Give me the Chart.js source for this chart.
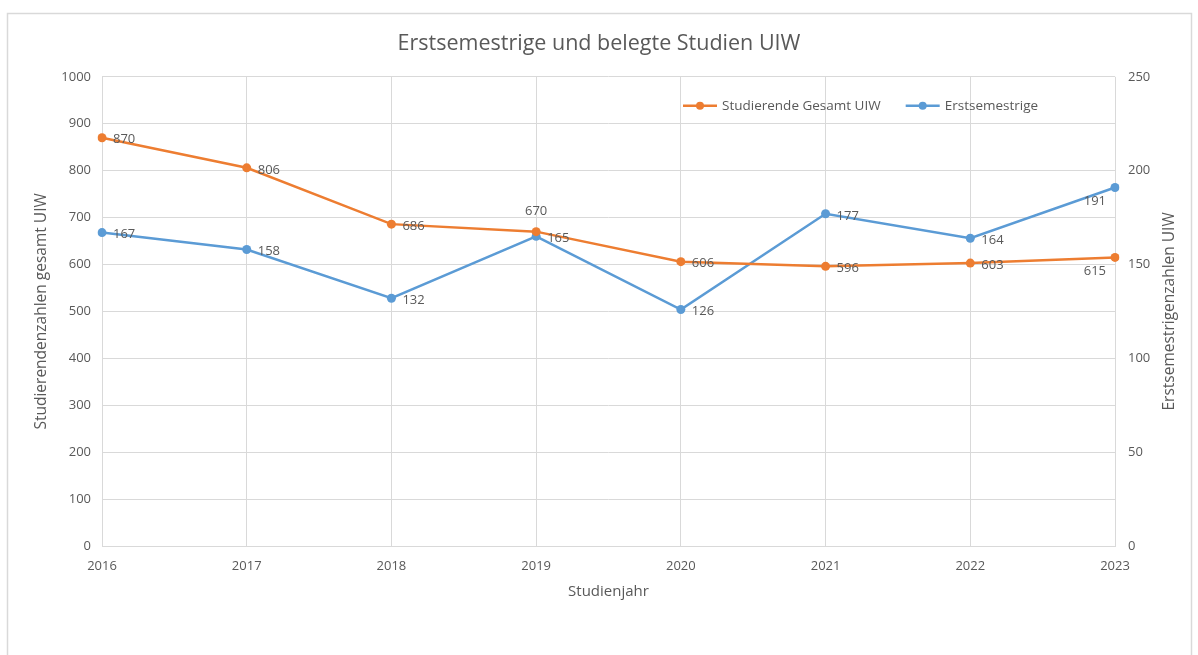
<!DOCTYPE html>
<html>
<head>
<meta charset="utf-8">
<script src="https://cdn.jsdelivr.net/npm/chart.js@4/dist/chart.umd.min.js"></script>
<style>
html,body{margin:0;padding:0;background:#fff;}
#wrap{width:1198px;height:655px;position:relative;}
</style>
</head>
<body>
<div id="wrap"><canvas id="c" width="1198" height="655"></canvas></div>
<script>
// ---- data ----
const years = ['2016', '2017', '2018', '2019', '2020', '2021', '2022', '2023'];
const studierendeGesamt = [870, 806, 686, 670, 606, 596, 603, 615];
const erstsemestrige = [167, 158, 132, 165, 126, 177, 164, 191];
const leftAxisMax = 1000, leftAxisStep = 100;
const rightAxisMax = 250, rightAxisStep = 50;

const chartTitle = 'Erstsemestrige und belegte Studien UIW';
const xTitle = 'Studienjahr';
const leftTitle = 'Studierendenzahlen gesamt UIW';
const rightTitle = 'Erstsemestrigenzahlen UIW';
const seriesNames = ['Studierende Gesamt UIW', 'Erstsemestrige'];

// label placement (style)
const labelPlacement = [
  ['right','right','right','above','right','right','right','belowLeft'],
  ['right','right','right','right','right','right','right','belowLeft']
];

const FONT = "'Open Sans', 'Liberation Sans', sans-serif";
const TEXT = '#595959';
const GRID = '#d9d9d9';
const ORANGE = '#ED7D31';
const BLUE = '#5B9BD5';

const framePlugin = {
  id: 'frame',
  beforeDraw(chart) {
    const c = chart.ctx;
    c.save();
    c.fillStyle = '#fff';
    c.fillRect(0, 0, chart.width, chart.height);
    c.strokeStyle = GRID;
    c.lineWidth = 1.5;
    c.strokeRect(7.5, 13.5, 1184, 700);
    c.restore();
  }
};

const dataLabelPlugin = {
  id: 'dataLabels',
  afterDatasetsDraw(chart) {
    const c = chart.ctx;
    c.save();
    c.font = '13px ' + FONT;
    c.fillStyle = TEXT;
    chart.data.datasets.forEach((ds, di) => {
      const meta = chart.getDatasetMeta(di);
      meta.data.forEach((pt, i) => {
        const pos = labelPlacement[di][i];
        const txt = String(ds.data[i]);
        if (pos === 'above') {
          c.textAlign = 'center'; c.textBaseline = 'middle';
          c.fillText(txt, pt.x, pt.y - 20);
        } else if (pos === 'belowLeft') {
          c.textAlign = 'right'; c.textBaseline = 'middle';
          c.fillText(txt, pt.x - 9, pt.y + 14);
        } else {
          c.textAlign = 'left'; c.textBaseline = 'middle';
          c.fillText(txt, pt.x + 11, pt.y + 2);
        }
      });
    });
    c.restore();
  }
};

const legendPlugin = {
  id: 'customLegend',
  afterDraw(chart) {
    const c = chart.ctx;
    const area = chart.chartArea;
    let x = area.right - 432;
    const y = area.top + 29;
    c.save();
    c.font = '13.5px ' + FONT;
    c.textAlign = 'left';
    c.textBaseline = 'middle';
    chart.data.datasets.forEach((ds) => {
      c.strokeStyle = ds.borderColor;
      c.lineWidth = 2.5;
      c.beginPath(); c.moveTo(x, y); c.lineTo(x + 34, y); c.stroke();
      c.fillStyle = ds.backgroundColor;
      c.beginPath(); c.arc(x + 17, y, 4, 0, Math.PI * 2); c.fill();
      c.fillStyle = TEXT;
      c.fillText(ds.label, x + 39, y);
      x += 39 + c.measureText(ds.label).width + 25;
    });
    c.restore();
  }
};

const rightTitlePlugin = {
  id: 'rightTitle',
  afterDraw(chart) {
    const c = chart.ctx;
    const s = chart.scales.y1;
    const area = chart.chartArea;
    c.save();
    c.translate(s.right - 28, (area.top + area.bottom) / 2);
    c.rotate(-Math.PI / 2);
    c.font = '15.5px ' + FONT;
    c.fillStyle = TEXT;
    c.textAlign = 'center';
    c.textBaseline = 'middle';
    c.fillText(rightTitle, 0, 0);
    c.restore();
  }
};

new Chart(document.getElementById('c'), {
  type: 'line',
  data: {
    labels: years,
    datasets: [
      {
        label: seriesNames[0],
        data: studierendeGesamt,
        yAxisID: 'y',
        borderColor: ORANGE,
        backgroundColor: ORANGE,
        borderWidth: 2.5,
        pointRadius: 4.5,
        pointHoverRadius: 4.5,
        pointBorderWidth: 0,
        tension: 0
      },
      {
        label: seriesNames[1],
        data: erstsemestrige,
        yAxisID: 'y1',
        borderColor: BLUE,
        backgroundColor: BLUE,
        borderWidth: 2.5,
        pointRadius: 4.5,
        pointHoverRadius: 4.5,
        pointBorderWidth: 0,
        tension: 0
      }
    ]
  },
  options: {
    responsive: false,
    animation: false,
    devicePixelRatio: 1,
    layout: { padding: { top: 0, left: 0, right: 0, bottom: 0 } },
    plugins: {
      legend: { display: false },
      tooltip: { enabled: false },
      title: {
        display: true,
        text: chartTitle,
        color: TEXT,
        font: { family: FONT, size: 21.5, weight: 'normal', lineHeight: 1.2 },
        padding: { top: 31, bottom: 20 }
      }
    },
    scales: {
      x: {
        offset: false,
        grid: { color: GRID, drawTicks: false, lineWidth: 1 },
        border: { color: GRID, width: 1 },
        ticks: { color: TEXT, padding: 12, font: { family: FONT, size: 13 }, maxRotation: 0 },
        title: {
          display: true, text: xTitle, color: TEXT,
          font: { family: FONT, size: 15, lineHeight: 1.2 },
          padding: { top: 0, bottom: 54 }
        },
        afterFit(s) { s.height = 109; }
      },
      y: {
        position: 'left',
        min: 0, max: leftAxisMax,
        grid: { color: GRID, drawTicks: false },
        border: { display: false },
        ticks: {
          stepSize: leftAxisStep, color: TEXT, padding: 11, font: { family: FONT, size: 13 },
          callback: (v) => String(v)
        },
        title: {
          display: true, text: leftTitle, color: TEXT,
          font: { family: FONT, size: 15.5, lineHeight: 1.2 },
          padding: { top: 32, bottom: 0 }
        },
        afterFit(s) { s.width = 102; }
      },
      y1: {
        position: 'right',
        min: 0, max: rightAxisMax,
        grid: { drawOnChartArea: false, drawTicks: false },
        border: { display: false },
        ticks: {
          stepSize: rightAxisStep, color: TEXT, padding: 13, font: { family: FONT, size: 13 },
          callback: (v) => String(v)
        },
        title: { display: false },
        afterFit(s) { s.width = 83; }
      }
    }
  },
  plugins: [framePlugin, dataLabelPlugin, legendPlugin, rightTitlePlugin]
});
</script>
</body>
</html>
